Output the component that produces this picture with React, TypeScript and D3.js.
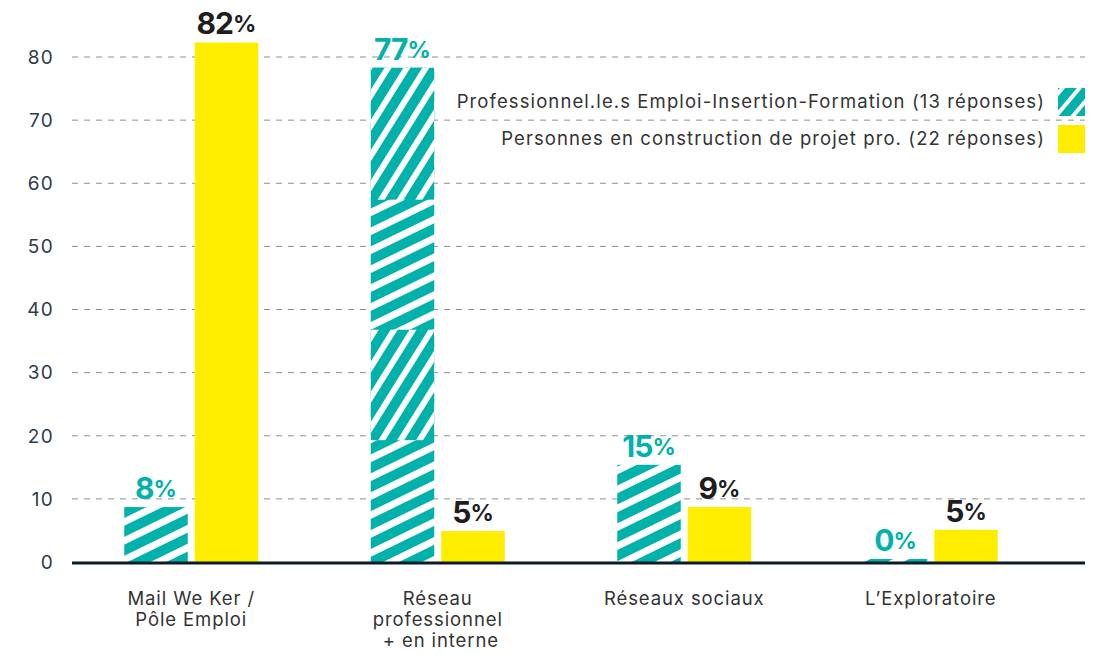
import React from "react";
import * as d3 from "d3";

const categories = [
  ["Mail We Ker /", "Pôle Emploi"],
  ["Réseau", "professionnel", " + en interne"],
  ["Réseaux sociaux"],
  ["L’Exploratoire"],
];
const seriesNames = [
  "Professionnel.le.s Emploi-Insertion-Formation (13 réponses)",
  "Personnes en construction de projet pro. (22 réponses)",
];
const proValues = [8.7, 78.3, 15.4, 0];
const proLabels = ["8", "77", "15", "0"];
const persValues = [82.3, 4.9, 8.7, 5.1];
const persLabels = ["82", "5", "9", "5"];
const yTicks = [0, 10, 20, 30, 40, 50, 60, 70, 80];
// value ranges of the hatched bars drawn with the steep stripe variant
const steepBands = [
  [57.4, 90],
  [19.3, 36.8],
];

const W = 1093;
const H = 655;
const TEAL = "#00b2aa";
const YELLOW = "#ffed00";
const DARK = "#1e1e1e";
const FONT = "Inter, 'Noto Sans', sans-serif";

export default function App() {
  const y = d3.scaleLinear().domain([0, 80]).range([562, 57]);
  const catIdx = categories.map((_, i) => String(i));
  const x0 = d3.scaleBand().domain(catIdx).range([68, 1054]).padding(0);
  const x1 = d3
    .scaleBand()
    .domain(["pro", "pers"])
    .range([0, x0.bandwidth()])
    .paddingInner(0.0993)
    .paddingOuter(0.798);

  const bars = [
    { key: "pro", values: proValues, labels: proLabels, fill: "url(#hatchShallow)", color: TEAL },
    { key: "pers", values: persValues, labels: persLabels, fill: YELLOW, color: DARK },
  ];

  return (
    <svg width={W} height={H} style={{ display: "block", position: "absolute", left: 0, top: 0 }}>
      <defs>
        <pattern id="hatchShallow" width="17" height="17" patternUnits="userSpaceOnUse" patternTransform="rotate(64)">
          <rect width="17" height="17" fill="#fff" />
          <rect width="10" height="17" fill={TEAL} />
        </pattern>
        <pattern id="hatchSteep" width="16" height="16" patternUnits="userSpaceOnUse" patternTransform="rotate(32)">
          <rect width="16" height="16" fill="#fff" />
          <rect width="10" height="16" fill={TEAL} />
        </pattern>
        <pattern id="hatchLegend" width="13" height="13" patternUnits="userSpaceOnUse" patternTransform="translate(2 0) rotate(40)">
          <rect width="13" height="13" fill="#fff" />
          <rect width="9" height="13" fill={TEAL} />
        </pattern>
        {proValues.map((v, i) => {
          const bx = (x0(String(i)) as number) + (x1("pro") as number);
          const top = Math.min(y(v), y(0) - 3);
          return (
            <clipPath id={"clipPro" + i} key={"cp" + i}>
              <rect x={bx} y={top} width={x1.bandwidth()} height={y(0) - top} />
            </clipPath>
          );
        })}
      </defs>
      <rect width={W} height={H} fill="#fff" />
      {/* grid */}
      {yTicks.filter((t) => t > 0).map((t) => (
        <line key={t} x1={72} x2={1085} y1={y(t)} y2={y(t)} stroke="#8a9096" strokeWidth={1} strokeDasharray="6 6" />
      ))}
      {yTicks.map((t) => (
        <text key={"t" + t} x={54} y={y(t)} dy="0.36em" textAnchor="end" fontFamily={FONT} fontSize={19} letterSpacing={1.3} fill="#2d3c4b">
          {t}
        </text>
      ))}
      {/* bars */}
      {bars.map((s) =>
        s.values.map((v, i) => {
          const bx = (x0(String(i)) as number) + (x1(s.key) as number);
          const top = Math.min(y(v), y(0) - 3);
          return (
            <g key={s.key + i}>
              <rect x={bx} y={top} width={x1.bandwidth()} height={y(0) - top} fill={s.fill} />
              {s.key === "pro" && v > 30 &&
                steepBands.map((b, k) => (
                  <rect
                    key={k}
                    clipPath={`url(#clipPro${i})`}
                    x={bx}
                    y={y(b[1])}
                    width={x1.bandwidth()}
                    height={y(b[0]) - y(b[1])}
                    fill="url(#hatchSteep)"
                  />
                ))}
            </g>
          );
        })
      )}
      {/* baseline */}
      <line x1={72} x2={1085} y1={y(0) + 1} y2={y(0) + 1} stroke="#0b1b27" strokeWidth={3} />
      {/* value labels */}
      {bars.map((s) =>
        s.values.map((v, i) => {
          const cx = (x0(String(i)) as number) + (x1(s.key) as number) + x1.bandwidth() / 2;
          const top = Math.min(y(v), y(0) - 3);
          return (
            <text key={"l" + s.key + i} x={cx} y={top - 8} textAnchor="middle" fontFamily={FONT} fontWeight={700} fill={s.color} fontSize={30} letterSpacing={-1}>
              {s.labels[i]}
              <tspan fontSize={23} dy={-2} letterSpacing={0}>%</tspan>
            </text>
          );
        })
      )}
      {/* category labels */}
      {categories.map((lines, i) => (
        <text key={"c" + i} x={(x0(String(i)) as number) + x0.bandwidth() / 2} y={605} textAnchor="middle" fontFamily={FONT} fontSize={18.5} letterSpacing={0.9} fill="#333">
          {lines.map((l, j) => (
            <tspan key={j} x={(x0(String(i)) as number) + x0.bandwidth() / 2} dy={j === 0 ? 0 : 21}>
              {l}
            </tspan>
          ))}
        </text>
      ))}
      {/* legend */}
      {seriesNames.map((n, i) => (
        <g key={"lg" + i}>
          <text x={1045} y={102 + i * 37} dy="0.35em" textAnchor="end" fontFamily={FONT} fontSize={18.5} letterSpacing={1.1} fill="#333">
            {n}
          </text>
          <rect x={1058} y={88 + i * 37} width={27} height={28} fill={i === 0 ? "url(#hatchLegend)" : YELLOW} />
        </g>
      ))}
    </svg>
  );
}
